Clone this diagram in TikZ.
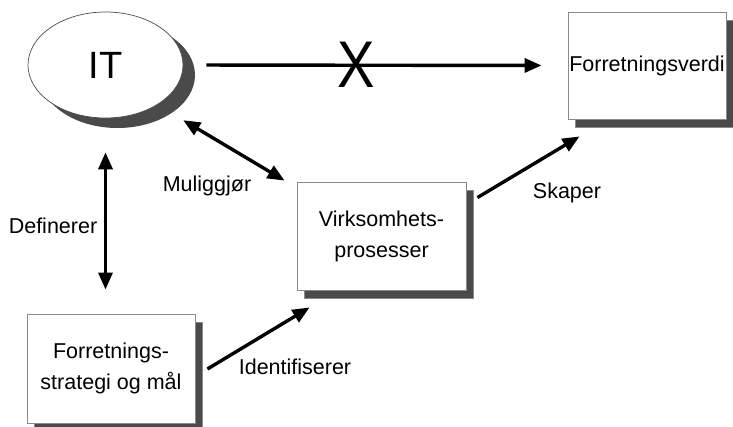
\documentclass[tikz,border=0pt]{standalone}
\usepackage{fontspec}
\setmainfont{Liberation Sans}
\usetikzlibrary{arrows.meta,shapes.geometric,shadows,calc}

\definecolor{shade}{HTML}{4A4A4A}
\definecolor{rim}{HTML}{8A8A8A}

\tikzset{
  txt/.style={font=\fontsize{21.5}{31}\selectfont, align=center, inner sep=0pt},
  card/.style={draw=rim, line width=0.9pt, fill=white, txt,
    drop shadow={shadow xshift=7pt, shadow yshift=-8pt, fill=shade, draw=rim, line width=0.6pt, opacity=1}},
  oval/.style={ellipse, draw=black!70, line width=0.7pt, fill=white, inner sep=0pt,
    minimum width=155pt, minimum height=106pt,
    drop shadow={shadow xshift=12pt, shadow yshift=-10pt, fill=shade, draw=none, opacity=1}},
  arr/.style={line width=3.4pt, -{Triangle[length=17pt, width=14pt]}},
  dbl/.style={line width=3.4pt, {Triangle[length=17pt, width=14pt]}-{Triangle[length=17pt, width=14pt]}},
  lab/.style={txt}
}

\begin{document}
\begin{tikzpicture}[x=1pt, y=-1pt]
  \useasboundingbox (0,0) rectangle (733,426);

  % the IT oval and the three boxes
  \node[oval] (IT) at (105.5,65) {\fontsize{38}{38}\selectfont IT};
  \node[card, minimum width=158pt, minimum height=107pt] (FV) at (647,65.5) {Forretningsverdi};
  \node[card, minimum width=169pt, minimum height=108pt] (VP) at (381.5,236) {Virksomhets-\\prosesser};
  \node[card, minimum width=168pt, minimum height=109pt] (FS) at (111,368.5) {Forretnings-\\strategi og mål};

  % IT does not lead straight to business value
  \draw[arr, shorten <=23pt, shorten >=26pt] (IT.east) -- (FV.west)
    node[pos=0.45, inner sep=0pt] (cross) {\scalebox{0.85}[1]{\fontsize{66}{66}\selectfont X}};

  % relations between the parts
  \draw[dbl] ($(IT.south east)+(22.7,17.5)$) -- ($(VP.north west)+(-12,-1)$);
  \draw[dbl, shorten <=34pt, shorten >=24pt] (IT.south) -- (IT.south |- FS.north);
  \draw[arr] ($(FS.east)+(12,0.5)$) -- ($(VP.south west)+(13,17)$);
  \draw[arr] ($(VP.north east)+(11,16)$) -- ($(FV.south west)+(12,17)$);

  % labels
  \node[lab] (lmul) at (207,186) {Muliggjør};
  \node[lab] (ldef) at (53,226) {Definerer};
  \node[lab] (lid)  at (295,367) {Identifiserer};
  \node[lab] (lsk)  at (567,193) {Skaper};
\end{tikzpicture}
\end{document}
